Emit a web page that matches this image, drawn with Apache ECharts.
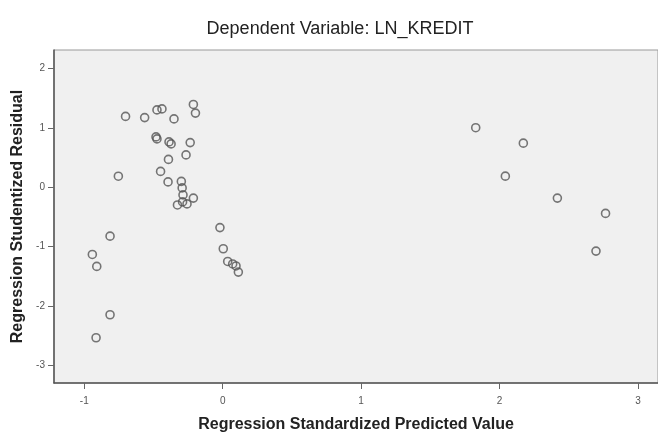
<!DOCTYPE html>
<html>
<head>
<meta charset="utf-8">
<script src="https://cdn.jsdelivr.net/npm/echarts@6/dist/echarts.min.js"></script>
<style>
  html, body { margin: 0; padding: 0; background: #fff; }
  #main { width: 658px; height: 438px; }
</style>
</head>
<body>
<div id="main"></div>
<script>
// standardized predicted values (x) and studentized residuals (y)
var predicted = [
  -0.702, -0.564, -0.475, -0.439, -0.352, -0.212, -0.197,
  -0.482, -0.475, -0.388, -0.373, -0.235, -0.265, -0.392,
  -0.754, -0.449, -0.395, -0.299, -0.293, -0.287, -0.212,
  -0.327, -0.290, -0.258, -0.020, 0.004, 0.036, 0.072,
  0.096, 0.113, -0.814, -0.942, -0.910, -0.814, -0.915,
  1.828, 2.172, 2.042, 2.418, 2.766, 2.697
]
var residual = [
  1.191, 1.171, 1.301, 1.318, 1.149, 1.393, 1.247,
  0.846, 0.812, 0.762, 0.728, 0.750, 0.543, 0.467,
  0.184, 0.265, 0.088, 0.096, -0.013, -0.131, -0.185,
  -0.300, -0.249, -0.283, -0.682, -1.038, -1.252, -1.294,
  -1.328, -1.432, -0.826, -1.134, -1.336, -2.150, -2.538,
  1.001, 0.741, 0.185, -0.185, -0.443, -1.078
]
var xTicks = [-1, 0, 1, 2, 3]
var yTicks = [-3, -2, -1, 0, 1, 2]

var points = predicted.map(function (v, i) { return [v, residual[i]] })

var myChart = echarts.init(document.getElementById('main'))
var tickLabel = { color: '#555', fontSize: 10, fontFamily: 'Liberation Sans' }
var nameStyle = { fontSize: 16, fontWeight: 'bold', color: '#222', fontFamily: 'Liberation Sans' }
var option = {
  backgroundColor: '#fff',
  animation: false,
  title: {
    text: 'Dependent Variable: LN_KREDIT',
    left: 335, top: 15, textAlign: 'center',
    textStyle: { fontSize: 18, fontWeight: 'normal', color: '#222', fontFamily: 'Liberation Sans' }
  },
  grid: {
    left: 54, top: 50, right: 0, bottom: 55,
    show: true, backgroundColor: '#f0f0f0', borderColor: '#999', borderWidth: 1
  },
  xAxis: {
    type: 'value', min: -1.219, max: 3.145,
    name: 'Regression Standardized Predicted Value',
    nameLocation: 'middle', nameGap: 34,
    nameTextStyle: nameStyle,
    axisLine: { show: true, onZero: false, lineStyle: { color: '#555', width: 1.5 } },
    axisTick: { show: true, length: 6, lineStyle: { color: '#666' }, customValues: xTicks },
    axisLabel: Object.assign({ margin: 13, customValues: xTicks }, tickLabel),
    splitLine: { show: false }
  },
  yAxis: {
    type: 'value', min: -3.30, max: 2.31,
    name: 'Regression Studentized Residual',
    nameLocation: 'middle', nameGap: 23,
    nameTextStyle: nameStyle,
    axisLine: { show: true, onZero: false, lineStyle: { color: '#555', width: 1.5 } },
    axisTick: { show: true, length: 6, lineStyle: { color: '#666' }, customValues: yTicks },
    axisLabel: Object.assign({ margin: 9, customValues: yTicks }, tickLabel),
    splitLine: { show: false }
  },
  series: [{
    type: 'scatter',
    data: points,
    symbol: 'circle',
    symbolSize: 8,
    itemStyle: { color: 'rgba(0,0,0,0)', borderColor: '#555', borderWidth: 1.6 }
  }]
}
myChart.setOption(option)
</script>
</body>
</html>
